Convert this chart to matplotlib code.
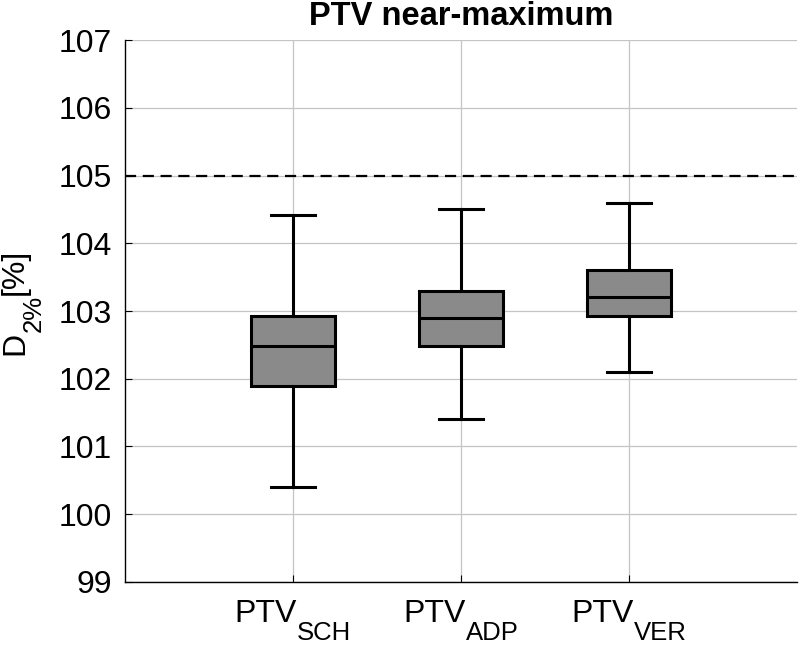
import numpy as np
import matplotlib as mpl
mpl.use('Agg')
import matplotlib.pyplot as plt
import matplotlib.transforms as mtransforms

mpl.rcParams['font.family'] = ['Liberation Sans', 'DejaVu Sans']

# box statistics
groups = ['SCH', 'ADP', 'VER']
whis_hi = [104.42, 104.5, 104.6]
q3 = [102.93, 103.3, 103.6]
median = [102.49, 102.9, 103.21]
q1 = [101.89, 102.49, 102.92]
whis_lo = [100.4, 101.41, 102.1]
limit = 105

MAIN = 23
SUB = 18.5
SUB_DROP = 18  # px, baseline drop of subscripts

stats = []
for i in range(len(groups)):
    stats.append(dict(med=median[i], q1=q1[i], q3=q3[i],
                      whislo=whis_lo[i], whishi=whis_hi[i], fliers=[]))

fig = plt.figure(figsize=(8, 6.48), dpi=100)
ax = fig.add_axes([0.156, 0.102, 0.84, 0.836])


def sub_text(x, y, trans, parts, rotation=0):
    # parts: (string, fontsize, is_sub); laid out centred on (x, y)
    renderer = fig.canvas.get_renderer()
    texts, widths = [], []
    for s, size, is_sub in parts:
        t = fig.text(x, y, s, fontsize=size, transform=trans, ha='left',
                     va='baseline', rotation=rotation, rotation_mode='anchor')
        bb = t.get_window_extent(renderer)
        texts.append(t)
        widths.append(bb.width if rotation == 0 else bb.height)
    pos = -sum(widths) / 2
    for t, w, (s, size, is_sub) in zip(texts, widths, parts):
        drop = SUB_DROP if is_sub else 0
        if rotation == 0:
            dx, dy = pos, -drop
        else:
            dx, dy = drop, pos
        t.set_transform(trans + mtransforms.ScaledTranslation(
            dx / fig.dpi, dy / fig.dpi, fig.dpi_scale_trans))
        pos += w


lw = 2.2
ax.bxp(stats, positions=[1, 2, 3], widths=0.5, capwidths=0.26,
       patch_artist=True, showfliers=False,
       boxprops=dict(facecolor='#8a8a8a', edgecolor='black', linewidth=lw),
       medianprops=dict(color='black', linewidth=lw),
       whiskerprops=dict(color='black', linewidth=lw),
       capprops=dict(color='black', linewidth=lw))

ax.axhline(limit, color='black', linestyle=(0, (5, 3)), linewidth=1.6, zorder=1)

ax.set_xlim(0, 4)
ax.set_ylim(99, 107)
ax.set_yticks(np.arange(99, 108, 1))
ax.set_xticks([1, 2, 3])
ax.set_xticklabels([])
ax.grid(True, color='#c4c4c4', linewidth=0.9)
ax.set_axisbelow(True)

for s in ['top', 'right']:
    ax.spines[s].set_visible(False)
for s in ['left', 'bottom']:
    ax.spines[s].set_linewidth(1.0)
ax.tick_params(direction='in', length=5, labelsize=MAIN, width=0.8, pad=9)

# x tick labels with MATLAB-style subscripts
xtrans = mtransforms.blended_transform_factory(ax.transData, fig.transFigure)
for i, g in enumerate(groups):
    sub_text(i + 1, 26 / 648, xtrans, [('PTV', MAIN, False), (g, SUB, True)])

# y label
sub_text(23 / 800, 346 / 648, fig.transFigure,
         [('D', MAIN, False), ('2%', SUB, True), ('[%]', MAIN, False)], rotation=90)

ax.set_title('PTV near-maximum', fontsize=23.5, fontweight='bold', pad=11)

fig.savefig('out.png', dpi=100)
